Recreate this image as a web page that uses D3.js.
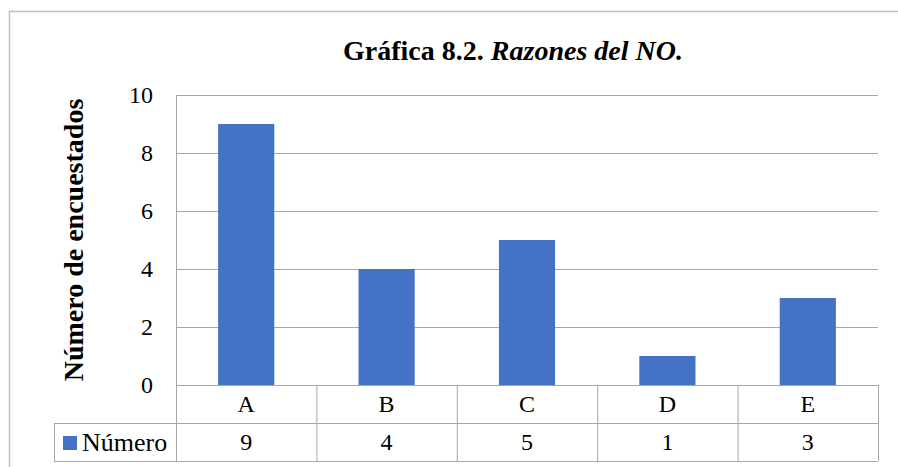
<!DOCTYPE html>
<html>
<head>
<meta charset="utf-8">
<script src="https://cdn.jsdelivr.net/npm/d3@7"></script>
<style>
  body { margin: 0; background: #fff; }
</style>
</head>
<body>
<svg id="chart" width="898" height="467"></svg>
<script>
const categories = ["A", "B", "C", "D", "E"];
const values = [9, 4, 5, 1, 3];
const yTicks = [0, 2, 4, 6, 8, 10];
const seriesName = "Número";

const width = 898, height = 467;
const plot = { left: 176, right: 878, top: 95, bottom: 385 };
const rowH = 38;
const barColor = "#4472c4";
const gridColor = "#a6a6a6";
const serif = "'Liberation Serif', Tinos, 'Times New Roman'";

const svg = d3.select("#chart");

// outer chart frame (top + left only visible)
svg.append("path")
  .attr("d", `M9.5,${height} V11.5 H${width}`)
  .attr("fill", "none")
  .attr("stroke", "#bfbfbf")
  .attr("stroke-width", 1.5);

const x = d3.scaleBand()
  .domain(categories)
  .range([plot.left, plot.right])
  .paddingInner(0.6)
  .paddingOuter(0.3);

const xCells = d3.scaleBand()
  .domain(categories)
  .range([plot.left, plot.right]);

const y = d3.scaleLinear()
  .domain([0, 10])
  .range([plot.bottom, plot.top]);

// gridlines
svg.append("g")
  .selectAll("line")
  .data(yTicks)
  .join("line")
  .attr("x1", plot.left)
  .attr("x2", plot.right)
  .attr("y1", d => y(d) + 0.5)
  .attr("y2", d => y(d) + 0.5)
  .attr("stroke", gridColor)
  .attr("stroke-width", 1);

// left axis line
svg.append("line")
  .attr("x1", plot.left + 0.5).attr("x2", plot.left + 0.5)
  .attr("y1", plot.top).attr("y2", plot.bottom + 2 * rowH)
  .attr("stroke", gridColor);

// tick labels
svg.append("g")
  .selectAll("text")
  .data(yTicks)
  .join("text")
  .attr("x", 153)
  .attr("y", d => y(d))
  .attr("dy", "0.35em")
  .attr("text-anchor", "end")
  .attr("font-family", serif)
  .attr("font-size", 24)
  .text(d => d);

// bars
svg.append("g")
  .selectAll("rect")
  .data(values)
  .join("rect")
  .attr("x", (d, i) => x(categories[i]))
  .attr("width", x.bandwidth())
  .attr("y", d => y(d))
  .attr("height", d => y(0) - y(d))
  .attr("fill", barColor);

// data table
const table = svg.append("g");
const row1 = plot.bottom, row2 = plot.bottom + rowH, row3 = plot.bottom + 2 * rowH;
table.append("line")
  .attr("x1", 54).attr("x2", plot.right)
  .attr("y1", row2 + 0.5).attr("y2", row2 + 0.5)
  .attr("stroke", gridColor);
table.append("line")
  .attr("x1", 54).attr("x2", plot.right)
  .attr("y1", row3 + 0.5).attr("y2", row3 + 0.5)
  .attr("stroke", gridColor);
table.append("line")
  .attr("x1", 54.5).attr("x2", 54.5)
  .attr("y1", row2).attr("y2", row3)
  .attr("stroke", gridColor);
table.selectAll(".div")
  .data(categories)
  .join("line")
  .attr("x1", d => xCells(d) + xCells.bandwidth() + 0.5)
  .attr("x2", d => xCells(d) + xCells.bandwidth() + 0.5)
  .attr("y1", row1).attr("y2", row3)
  .attr("stroke", gridColor);

table.selectAll(".cat")
  .data(categories)
  .join("text")
  .attr("x", d => xCells(d) + xCells.bandwidth() / 2)
  .attr("y", (row1 + row2) / 2)
  .attr("dy", "0.35em")
  .attr("text-anchor", "middle")
  .attr("font-family", serif)
  .attr("font-size", 24)
  .text(d => d);

table.selectAll(".val")
  .data(values)
  .join("text")
  .attr("x", (d, i) => xCells(categories[i]) + xCells.bandwidth() / 2)
  .attr("y", (row2 + row3) / 2)
  .attr("dy", "0.35em")
  .attr("text-anchor", "middle")
  .attr("font-family", serif)
  .attr("font-size", 24)
  .text(d => d);

// legend key
table.append("rect")
  .attr("x", 63).attr("y", 436)
  .attr("width", 14).attr("height", 14)
  .attr("fill", barColor);
table.append("text")
  .attr("x", 82)
  .attr("y", (row2 + row3) / 2)
  .attr("dy", "0.35em")
  .attr("font-family", serif)
  .attr("font-size", 26)
  .text(seriesName);

// title
const title = svg.append("text")
  .attr("x", 513)
  .attr("y", 60)
  .attr("text-anchor", "middle")
  .attr("font-family", serif)
  .attr("font-size", 28)
  .attr("font-weight", "bold");
title.append("tspan").text("Gráfica 8.2. ");
title.append("tspan").attr("font-style", "italic").text("Razones del NO.");

// y axis title
svg.append("text")
  .attr("transform", `translate(83,${(plot.top + plot.bottom) / 2}) rotate(-90)`)
  .attr("text-anchor", "middle")
  .attr("font-family", serif)
  .attr("font-size", 28)
  .attr("font-weight", "bold")
  .text("Número de encuestados");
</script>
</body>
</html>
